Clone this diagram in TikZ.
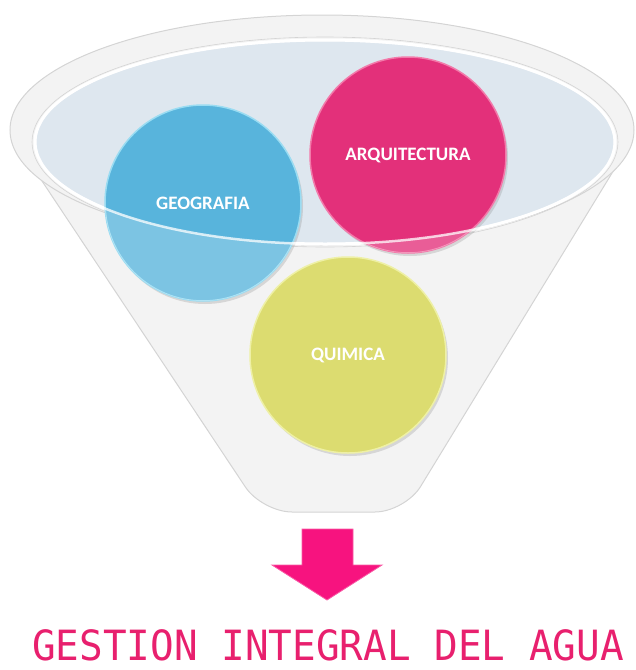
\documentclass[tikz,border=0pt]{standalone}
\usepackage{fontspec}
\usepackage{graphicx}
\usetikzlibrary{shadows}
\newfontfamily\labelfont{Carlito}
\newfontfamily\dotfont{DejaVu Sans Mono}
\definecolor{geoblue}{HTML}{58B4DC}
\definecolor{georim}{HTML}{9ADCF2}
\definecolor{arqpink}{HTML}{E3307A}
\definecolor{arqrim}{HTML}{F27AAA}
\definecolor{quiyel}{HTML}{DCDC70}
\definecolor{quirim}{HTML}{EEF0A6}
\definecolor{funnelfill}{HTML}{F3F3F3}
\definecolor{funneledge}{HTML}{D4D4D4}
\definecolor{mouth}{HTML}{DEE7EF}
\definecolor{arrowpink}{HTML}{F7137F}
\definecolor{titlepink}{HTML}{E8206E}
\tikzset{
  disc/.style={circle, minimum size=196pt, inner sep=0pt, line width=1.5pt,
    drop shadow={shadow xshift=2pt, shadow yshift=-3pt, opacity=0.25, fill=gray}},
  disclabel/.style={text=white, inner sep=0pt, font=\labelfont\bfseries\fontsize{19}{22}\selectfont},
  funnelbody/.style={fill=funnelfill, draw=funneledge, line width=1pt},
  titletext/.style={text=titlepink, font=\dotfont\fontsize{39.3}{40}\selectfont, inner sep=0pt}
}
\begin{document}
\begin{tikzpicture}[x=1pt,y=-1pt]
\useasboundingbox (0,0) rectangle (636,670);
% funnel cone
\draw[funnelbody, rounded corners=30pt] (28,160) -- (262,512) -- (405,512) -- (620,160);
% outer rim
\draw[funnelbody] (322,130) ellipse [x radius=312, y radius=115];
% mouth
\draw[fill=mouth, draw=white, line width=3pt] (325,142) ellipse [x radius=290, y radius=102];
\draw[draw=funneledge, line width=0.6pt] (325,142) ellipse [x radius=293, y radius=105];
% circles
\node[disc, fill=geoblue, draw=georim] (geo) at (203,203) {};
\node[disc, fill=arqpink, draw=arqrim] (arq) at (408,155) {};
\node[disc, fill=quiyel, draw=quirim] (qui) at (348,355) {};
% front face of funnel over the upper circles
\begin{scope}
  \clip (203,203) circle [radius=98];
  \fill[white, opacity=0.22, even odd rule] (-10,-10) rectangle (650,700)
    (325,142) ellipse [x radius=290, y radius=102];
\end{scope}
\begin{scope}
  \clip (408,155) circle [radius=98];
  \fill[white, opacity=0.22, even odd rule] (-10,-10) rectangle (650,700)
    (325,142) ellipse [x radius=290, y radius=102];
\end{scope}
\draw[white, opacity=0.75, line width=2.5pt] (325,142) ellipse [x radius=290, y radius=102];
% labels
\node[disclabel] (geot) at (geo.center) {GEOGRAFIA};
\node[disclabel] (arqt) at (arq.center) {ARQUITECTURA};
\node[disclabel] (quit) at (qui.center) {QUIMICA};
% arrow
\fill[arrowpink, draw=arrowpink!70!white, line width=0.8pt] (302,529) -- (353,529) -- (353,565) -- (382,565)
  -- (327,600) -- (272,565) -- (302,565) -- cycle;
% title
\node[titletext] (title) at (328,645) {\scalebox{1}[1.06]{GESTION INTEGRAL DEL AGUA}};
\end{tikzpicture}
\end{document}
